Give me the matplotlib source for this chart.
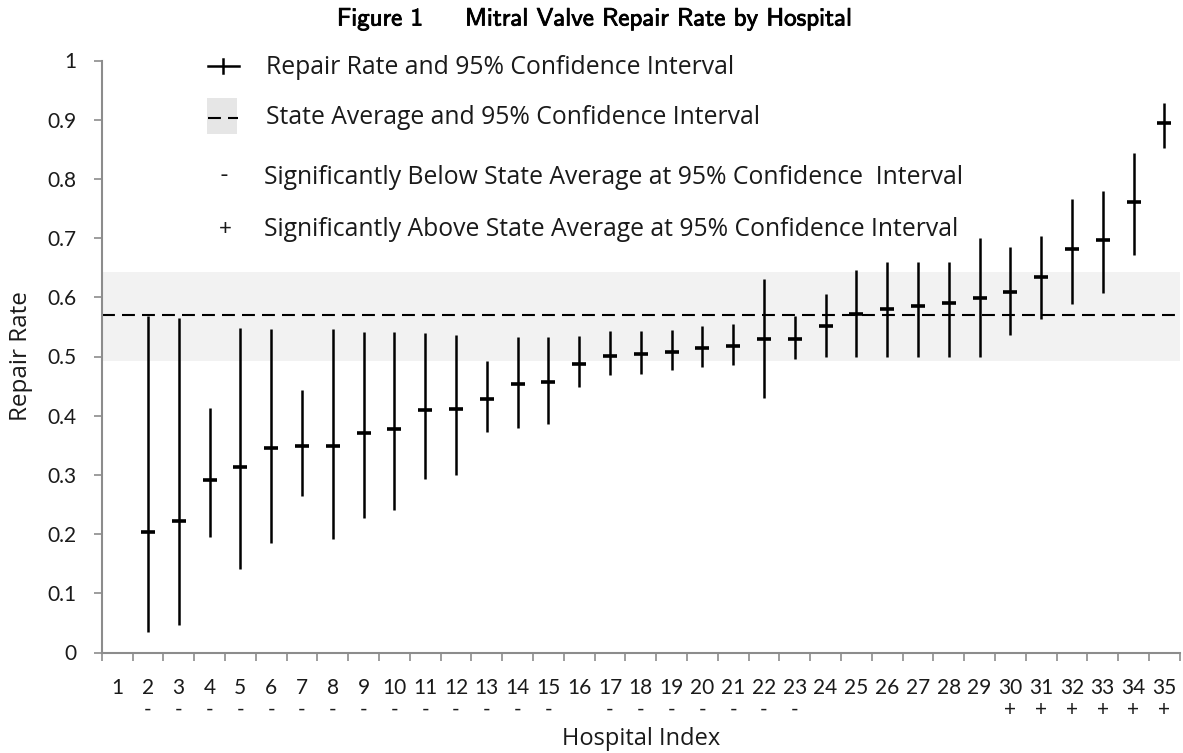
"""Mitral valve repair rate by hospital, with 95% confidence intervals."""

import numpy as np
import matplotlib
matplotlib.use("Agg")
import matplotlib.pyplot as plt
import matplotlib.patheffects as pe
from matplotlib.lines import Line2D
from matplotlib.patches import Rectangle

# ---- data ----
hospitals = list(range(1, 36))
rate = [np.nan, 0.203, 0.222, 0.292, 0.314, 0.345, 0.348, 0.348, 0.370, 0.377,
        0.409, 0.412, 0.428, 0.453, 0.457, 0.488, 0.501, 0.504, 0.507, 0.514,
        0.517, 0.529, 0.529, 0.552, 0.571, 0.581, 0.586, 0.590, 0.599, 0.609,
        0.634, 0.682, 0.697, 0.761, 0.894]
ci_low = [np.nan, 0.034, 0.046, 0.195, 0.141, 0.185, 0.264, 0.192, 0.227, 0.240,
          0.293, 0.300, 0.372, 0.379, 0.386, 0.449, 0.468, 0.471, 0.478, 0.483,
          0.486, 0.430, 0.496, 0.499, 0.499, 0.500, 0.500, 0.500, 0.500, 0.537,
          0.564, 0.589, 0.608, 0.671, 0.852]
ci_high = [np.nan, 0.569, 0.565, 0.413, 0.548, 0.546, 0.444, 0.546, 0.542, 0.542,
           0.539, 0.537, 0.492, 0.533, 0.533, 0.535, 0.543, 0.543, 0.545, 0.551,
           0.555, 0.631, 0.569, 0.606, 0.646, 0.659, 0.659, 0.659, 0.700, 0.685,
           0.703, 0.766, 0.780, 0.843, 0.928]
signif = [""] + ["-"] * 14 + [""] + ["-"] * 7 + [""] * 6 + ["+"] * 6

state_avg = 0.570
state_low = 0.493
state_high = 0.642

y_ticks = [0, 0.1, 0.2, 0.3, 0.4, 0.5, 0.6, 0.7, 0.8, 0.9, 1]
y_ticklabels = ["0", "0.1", "0.2", "0.3", "0.4", "0.5", "0.6", "0.7", "0.8", "0.9", "1"]

legend_labels = [
    "Repair Rate and 95% Confidence Interval",
    "State Average and 95% Confidence Interval",
    "Significantly Below State Average at 95% Confidence  Interval",
    "Significantly Above State Average at 95% Confidence Interval",
]

# ---- figure ----
W, H = 1183, 753
FONT = "Lato"
TEXT_FONT = "Open Sans"
TXT = "#1a1a1a"
GRAY = "#8c8c8c"
DASHES = (6.2, 3.4)

fig = plt.figure(figsize=(W / 100, H / 100), dpi=100)
fig.patch.set_facecolor("white")


def fx(px):
    return px / W


def fy(py):
    return 1 - py / H


ax = fig.add_axes([fx(101.7), fy(652.5), fx(1179.7) - fx(101.7), 592 / H])

x = np.array(hospitals)
r = np.array(rate)
lo = np.array(ci_low)
hi = np.array(ci_high)

ax.axhspan(state_low, state_high, color="#f2f2f2", lw=0, zorder=0)
ax.axhline(state_avg, color="black", lw=1.5, dashes=DASHES, zorder=1)

ax.errorbar(x, r, yerr=[r - lo, hi - r], fmt="_", color="black",
            ms=9.5, mew=2.6, elinewidth=1.8, capsize=0, zorder=3)

ax.set_xlim(0.5, 35.5)
ax.set_ylim(0, 1)

ax.set_xticks(x)
ax.set_xticklabels([str(h) for h in hospitals], fontsize=15, family=FONT, color=TXT)
ax.set_xticks(np.arange(0.5, 36, 1), minor=True)
ax.tick_params(axis="x", which="major", length=0, pad=18)
ax.tick_params(axis="x", which="minor", length=6, width=1.2, color=GRAY, direction="out")

ax.set_yticks(y_ticks)
ax.set_yticklabels(y_ticklabels, fontsize=15, family=FONT, color=TXT)
ax.tick_params(axis="y", length=6, width=1.2, color=GRAY, direction="out", pad=12)

for side in ["top", "right"]:
    ax.spines[side].set_visible(False)
for side in ["left", "bottom"]:
    ax.spines[side].set_color(GRAY)
    ax.spines[side].set_linewidth(1.5)

# significance markers below tick labels
sig_y = (652.5 - 710) / 592
for h, s in zip(hospitals, signif):
    if s:
        ax.text(h, sig_y, s, transform=ax.get_xaxis_transform(), ha="center",
                va="center", fontsize=15, family=FONT, color=TXT)

ax.set_xlabel("Hospital Index", fontsize=17, family=TEXT_FONT, color=TXT)
ax.xaxis.set_label_coords(0.5, (652.5 - 727) / 592)
ax.set_ylabel("Repair Rate", fontsize=17.5, family=TEXT_FONT, color=TXT)
ax.yaxis.set_label_coords((33 - 101.7) / 1078, 0.5)

# title
bold = [pe.withStroke(linewidth=0.6, foreground="black")]
fig.text(fx(337), fy(19), "Figure 1", family="cmss10", fontsize=18,
         ha="left", va="center", color="black", path_effects=bold)
fig.text(fx(465), fy(19), "Mitral Valve Repair Rate by Hospital", family="cmss10",
         fontsize=18, ha="left", va="center", color="black", path_effects=bold)

# legend, drawn by hand
fig.add_artist(Line2D([fx(208), fx(239)], [fy(66), fy(66)], color="black", lw=1.8))
fig.add_artist(Line2D([fx(223), fx(223)], [fy(59), fy(73)], color="black", lw=1.8))
fig.add_artist(Rectangle((fx(207), fy(134)), fx(237) - fx(207), fy(98) - fy(134),
                         transform=fig.transFigure, color="#e6e6e6", lw=0))
fig.add_artist(Line2D([fx(208), fx(238)], [fy(118), fy(118)], color="black",
                      lw=1.5, dashes=DASHES))
fig.text(fx(224), fy(176), "-", family=FONT, fontsize=17, ha="center", va="center", color=TXT)
fig.text(fx(225), fy(229), "+", family=FONT, fontsize=16, ha="center", va="center", color=TXT)

for label, ypx, xpx in zip(legend_labels, [67, 117, 177, 229], [266, 266, 264, 264]):
    fig.text(fx(xpx), fy(ypx), label, family=TEXT_FONT, fontsize=17.8, ha="left",
             va="center", color=TXT)

fig.savefig("out.png", dpi=100)
plt.close(fig)
